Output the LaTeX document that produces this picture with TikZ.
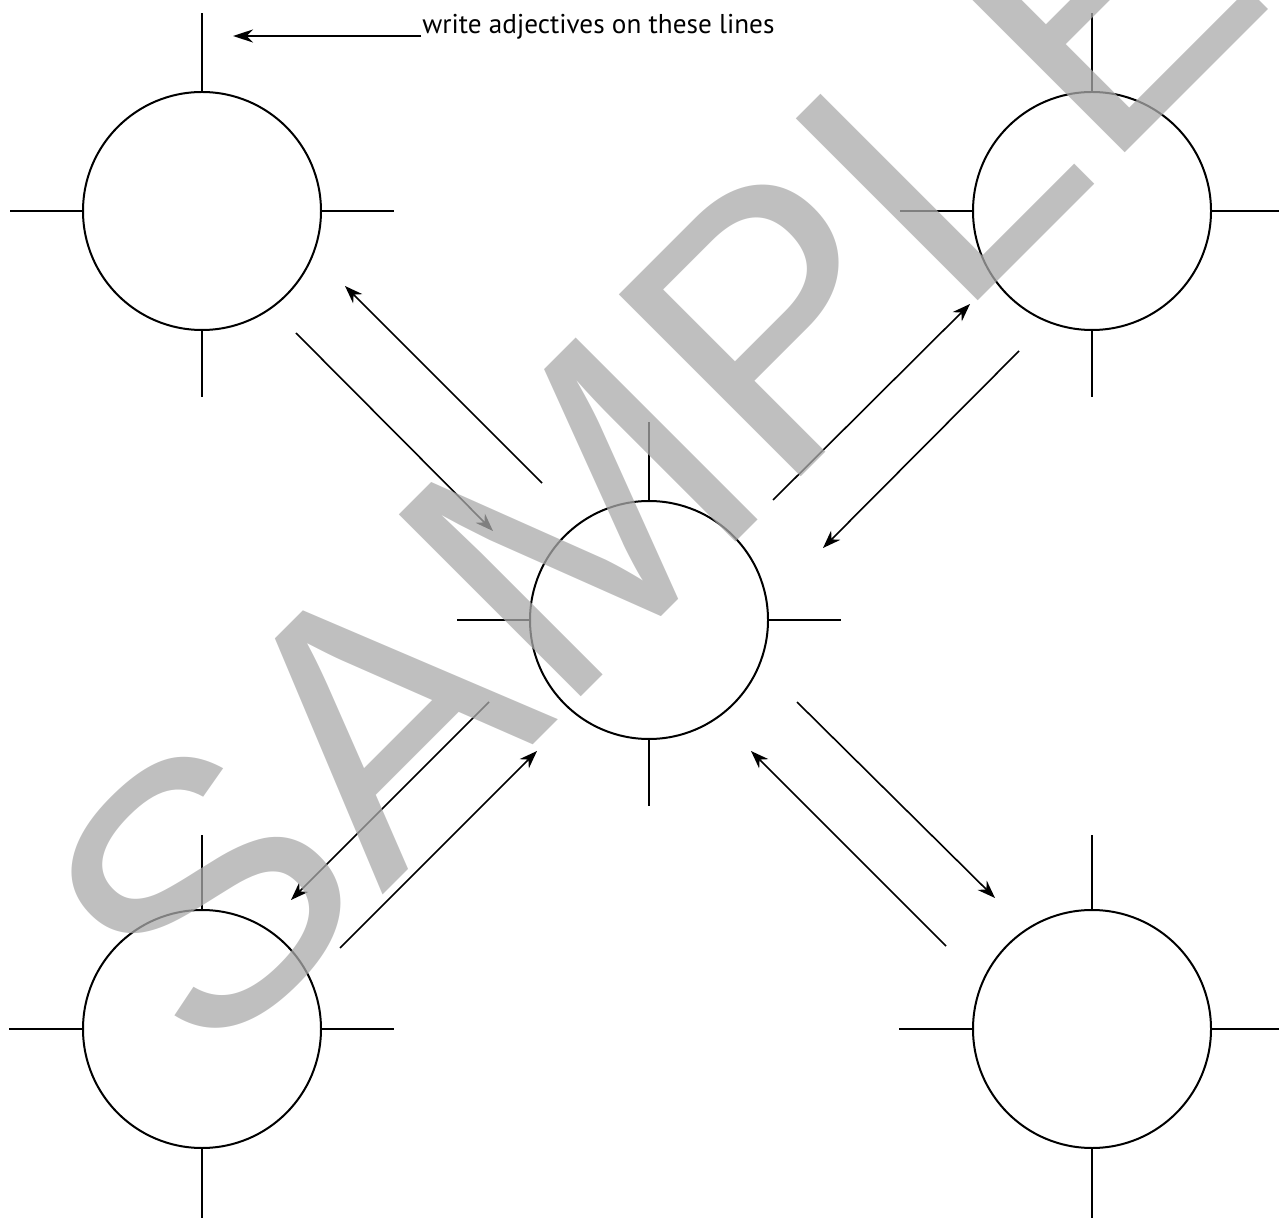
\documentclass[tikz,border=0pt]{standalone}
\usepackage{fontspec}
\setmainfont{PT Sans}
\newfontfamily\wmfont{Liberation Sans}
\usetikzlibrary{arrows.meta}
\definecolor{wmgray}{RGB}{170,170,170}
\begin{document}
\begin{tikzpicture}[x=0.5pt,y=-0.5pt,
  bubble/.style={circle,draw,line width=1pt,minimum size=119pt,inner sep=0pt,outer sep=0pt},
  spoke/.style={line width=1pt},
  arr/.style={line width=0.8pt,-{Stealth[length=9pt,width=6.5pt]}},
  labarr/.style={line width=1pt,-{Stealth[length=10pt,width=6.5pt]}},
  lab/.style={anchor=base west,inner sep=0pt,font=\fontsize{13.6pt}{15pt}\selectfont},
  wm/.style={anchor=base,rotate=45,inner sep=0pt,text=wmgray,opacity=0.75,
    font=\wmfont\fontsize{187pt}{190pt}\selectfont}
]
\useasboundingbox (0,0) rectangle (1279,1218);

% circles
\node[bubble] (tl) at (202,211) {};
\node[bubble] (tr) at (1092,211) {};
\node[bubble] (c)  at (649,620) {};
\node[bubble] (bl) at (202,1029) {};
\node[bubble] (br) at (1092,1029) {};

% spokes
\foreach \n in {tl,tr,c}{
  \draw[spoke] (\n.north) -- ++(0,-79);
  \draw[spoke] (\n.south) -- ++(0,67);
  \draw[spoke] (\n.west) -- ++(-73,0);
  \draw[spoke] (\n.east) -- ++(73,0);
}
\foreach \n in {bl,br}{
  \draw[spoke] (\n.north) -- ++(0,-75);
  \draw[spoke] (\n.south) -- ++(0,71);
  \draw[spoke] (\n.west) -- ++(-74,0);
  \draw[spoke] (\n.east) -- ++(73,0);
}

% arrow end points
\coordinate (a1s) at (542,483); \coordinate (a1e) at (345,286);
\coordinate (a2s) at (296,333); \coordinate (a2e) at (493,531);
\coordinate (a3s) at (773,500); \coordinate (a3e) at (970,304);
\coordinate (a4s) at (1019,351); \coordinate (a4e) at (823,548);
\coordinate (a5s) at (489,702); \coordinate (a5e) at (291,900);
\coordinate (a6s) at (340,948); \coordinate (a6e) at (537,751);
\coordinate (a7s) at (797,702); \coordinate (a7e) at (995,898);
\coordinate (a8s) at (946,946); \coordinate (a8e) at (751,751);
\foreach \i in {1,...,8}{ \draw[arr] (a\i s) -- (a\i e); }

% label
\node[lab] (lbl) at (422,34) {write adjectives on these lines};
\coordinate (lbls) at (421,36);
\coordinate (lble) at (233,36);
\draw[labarr] (lbls) -- (lble);

% watermark
\node[wm] (mark) at (743,535) {SAMPLE};
\end{tikzpicture}
\end{document}
